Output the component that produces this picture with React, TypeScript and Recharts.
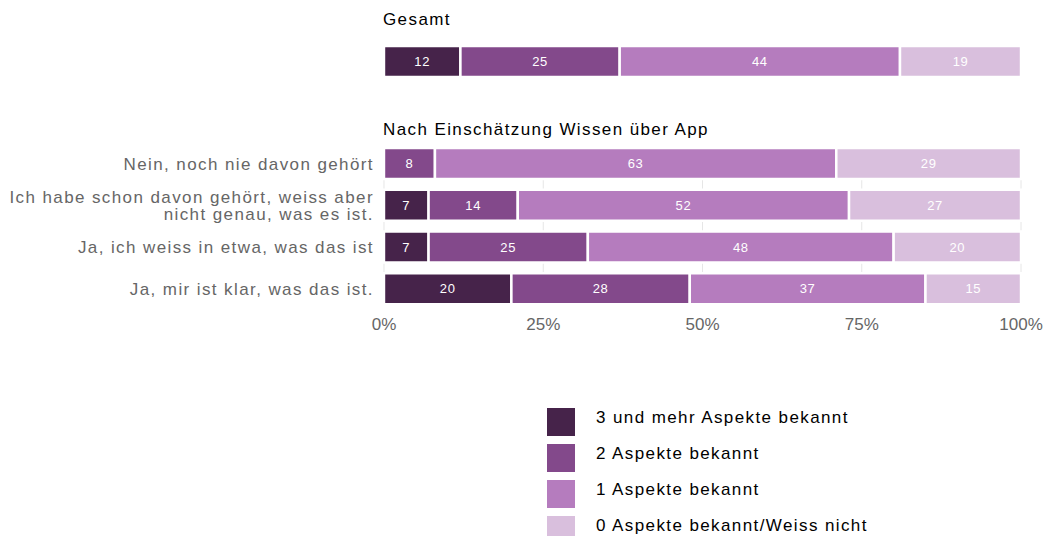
import { Bar, BarChart, CartesianGrid, LabelList, XAxis, YAxis } from "recharts";

// category order top -> bottom
const ROWS = [
  "Nein, noch nie davon gehört",
  "Ich habe schon davon gehört, weiss aber\nnicht genau, was es ist.",
  "Ja, ich weiss in etwa, was das ist",
  "Ja, mir ist klar, was das ist.",
];
const S3 = [0, 7, 7, 20]; // 3 und mehr
const S2 = [8, 14, 25, 28];
const S1 = [63, 52, 48, 37];
const S0 = [29, 27, 20, 15];

const TOTAL_LABEL = "Gesamt";
const TOTAL = [12, 25, 44, 19]; // s3, s2, s1, s0

const SERIES = [
  { key: "s3", name: "3 und mehr Aspekte bekannt", color: "#46234a" },
  { key: "s2", name: "2 Aspekte bekannt", color: "#83498b" },
  { key: "s1", name: "1 Aspekte bekannt", color: "#b57cbe" },
  { key: "s0", name: "0 Aspekte bekannt/Weiss nicht", color: "#d9bfdd" },
];
const X_TICKS = [0, 25, 50, 75, 100];

const FONT = "'Liberation Sans', Arial, Helvetica, sans-serif";
const AXIS_GREY = "#666666";
const GRID = "#e6e6e6";
const SPACING = 1.4; // reference text runs wide

const rows = ROWS.map((label, i) => ({ label, s3: S3[i], s2: S2[i], s1: S1[i], s0: S0[i] }));
const total = [{ label: TOTAL_LABEL, s3: TOTAL[0], s2: TOTAL[1], s1: TOTAL[2], s0: TOTAL[3] }];

const hideZero = (v: any) => (Number(v) === 0 ? "" : v);

// horizontal grid lines through the middle of each category band
const bandCenters = (labels: string[]) => ({ yAxis }: any) => {
  const sc = yAxis?.scale;
  if (typeof sc !== "function") return [];
  const bw = typeof sc.bandwidth === "function" ? sc.bandwidth() : 0;
  return labels.map((l) => sc(l) + bw / 2);
};

function RowTick({ x, y, payload }: any) {
  const lines = String(payload.value).split("\n");
  const lh = 17.5;
  const start = -((lines.length - 1) * lh) / 2;
  return (
    <text
      x={x}
      y={y}
      textAnchor="end"
      fill={AXIS_GREY}
      fontSize={17}
      fontFamily={FONT}
      style={{ letterSpacing: SPACING }}
    >
      {lines.map((l, i) => (
        <tspan key={i} x={x + SPACING} dy={i === 0 ? start + 6 : lh}>
          {l}
        </tspan>
      ))}
    </text>
  );
}

function bars() {
  return SERIES.map((s) => (
    <Bar
      key={s.key}
      dataKey={s.key}
      name={s.name}
      stackId="a"
      fill={s.color}
      stroke="#fff"
      strokeWidth={2.5}
      barSize={31}
      isAnimationActive={false}
    >
      <LabelList
        dataKey={s.key}
        position="center"
        fill="#fff"
        fontSize={13}
        fontFamily={FONT}
        style={{ letterSpacing: 0.6 }}
        formatter={hideZero}
      />
    </Bar>
  ));
}

const titleStyle: React.CSSProperties = {
  position: "absolute",
  left: 383,
  fontSize: 17,
  lineHeight: "18px",
  color: "#000",
  letterSpacing: SPACING,
  whiteSpace: "nowrap",
};

export default function App() {
  return (
    <div style={{ position: "absolute", left: 0, top: 0, width: 1048, height: 536, background: "#fff", fontFamily: FONT }}>
      <div style={{ ...titleStyle, top: 11 }}>Gesamt</div>
      <div style={{ position: "absolute", left: 0, top: 0 }}>
        <BarChart
          width={1048}
          height={79}
          data={total}
          layout="vertical"
          margin={{ top: 44, right: 20.6, left: 377.6, bottom: 0 }}
        >
          <CartesianGrid
            stroke={GRID}
            vertical={false}
            horizontalCoordinatesGenerator={bandCenters([TOTAL_LABEL])}
          />
          <XAxis type="number" domain={[-1, 101]} ticks={X_TICKS} hide allowDataOverflow />
          <YAxis type="category" dataKey="label" hide />
          {bars()}
        </BarChart>
      </div>

      <div style={{ ...titleStyle, top: 121 }}>Nach Einschätzung Wissen über App</div>
      <div style={{ position: "absolute", left: 0, top: 0 }}>
        <BarChart
          width={1048}
          height={350}
          data={rows}
          layout="vertical"
          margin={{ top: 143, right: 20.6, left: 0, bottom: 0 }}
        >
          <CartesianGrid
            stroke={GRID}
            y={148}
            height={156}
            syncWithTicks
            horizontalCoordinatesGenerator={bandCenters(ROWS)}
          />
          <XAxis
            type="number"
            domain={[-1, 101]}
            ticks={X_TICKS}
            allowDataOverflow
            tickFormatter={(v) => `${v}%`}
            axisLine={false}
            tickLine={false}
            height={40}
            tick={{ fill: AXIS_GREY, fontSize: 17, fontFamily: FONT }}
          />
          <YAxis
            type="category"
            dataKey="label"
            width={377.6}
            axisLine={false}
            tickLine={false}
            tickSize={0}
            tickMargin={5}
            interval={0}
            tick={<RowTick />}
          />
          {bars()}
        </BarChart>
      </div>

      <div style={{ position: "absolute", left: 547, top: 404 }}>
        {SERIES.map((s) => (
          <div key={s.key} style={{ display: "flex", alignItems: "center", height: 36 }}>
            <div style={{ width: 28, height: 28, background: s.color, marginRight: 21 }} />
            <span style={{ fontSize: 17, color: "#000", marginTop: -8, letterSpacing: SPACING, whiteSpace: "nowrap" }}>
              {s.name}
            </span>
          </div>
        ))}
      </div>
    </div>
  );
}
